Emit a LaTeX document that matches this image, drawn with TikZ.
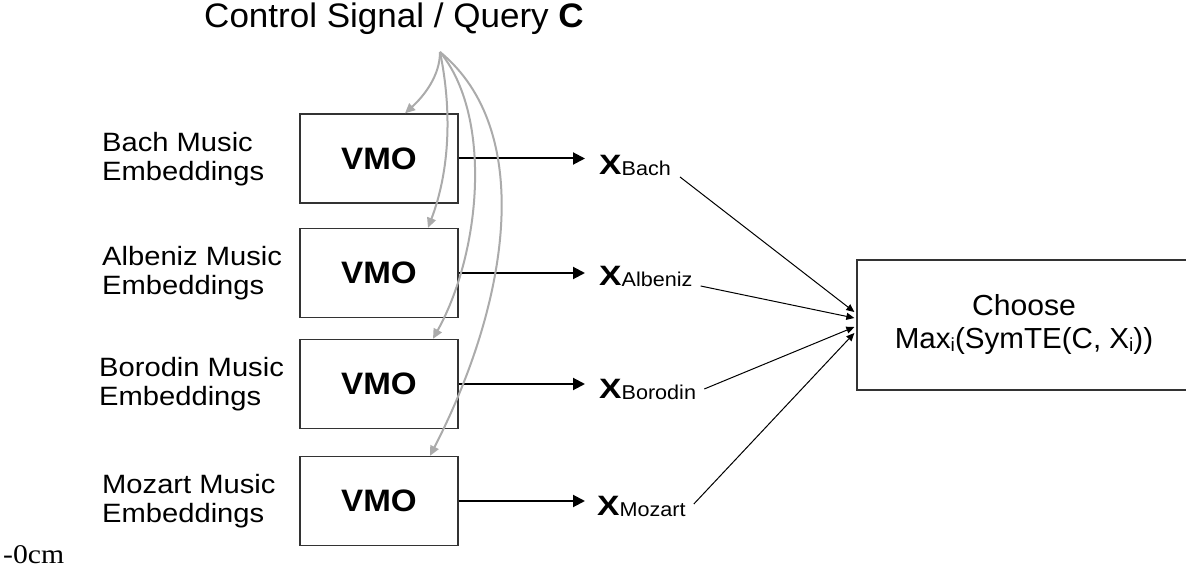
\documentclass[tikz,border=0pt]{standalone}
\usepackage{fontspec}
\usepackage{graphicx}
\setmainfont{Liberation Sans}
\newfontfamily\serifx{Liberation Serif}
\usetikzlibrary{arrows.meta}
\newcommand\twol[2]{\scalebox{1.1}[1]{\begin{tabular}{@{}l@{}}#1\\#2\end{tabular}}}
\newcommand\xsub[1]{\scalebox{1.2}[1]{\fontsize{28}{30}\selectfont\bfseries X}\raisebox{-1pt}{\scalebox{1.08}[1]{\fontsize{20}{22}\selectfont #1}}}
\newcommand\subi{\raisebox{-3pt}{\fontsize{19}{20}\selectfont i}}
\begin{document}
\begin{tikzpicture}[x=1pt,y=-1pt,
  vmo/.style={draw=black!80, line width=1.3pt, minimum width=158pt, minimum height=89pt, inner sep=0pt,
    font=\fontsize{31}{36}\selectfont\bfseries},
  lbl/.style={anchor=west, inner sep=0pt, font=\fontsize{26.5}{29}\selectfont},
  xl/.style={anchor=base west, inner sep=0pt},
  feed/.style={draw=black, line width=2pt, -{Triangle[length=12pt,width=12pt]}},
  link/.style={draw=black, line width=1pt, -{Triangle[length=8pt,width=7pt]}},
  ctrl/.style={draw=black!33, line width=2pt, -{Triangle[length=10pt,width=9pt]}}]
\useasboundingbox (0,0) rectangle (1186,569);
\clip (0,0) rectangle (1186,569);

% title
\node[anchor=base, inner sep=0pt, font=\fontsize{34}{40}\selectfont] (title) at (394,28)
  {\scalebox{1.03}[1]{Control Signal / Query \textbf{C}}};
\coordinate (q) at (440,52);

% VMO boxes
\node[vmo] (v1) at (379,158.5) {\scalebox{1.07}[1]{VMO}};
\node[vmo] (v2) at (379,273) {\scalebox{1.07}[1]{VMO}};
\node[vmo] (v3) at (379,384) {\scalebox{1.07}[1]{VMO}};
\node[vmo] (v4) at (379,501) {\scalebox{1.07}[1]{VMO}};

% left labels
\node[lbl] (l1) at (102,160) {\twol{Bach Music}{Embeddings}};
\node[lbl] (l2) at (102,274) {\twol{Albeniz Music}{Embeddings}};
\node[lbl] (l3) at (99,385) {\twol{Borodin Music}{Embeddings}};
\node[lbl] (l4) at (102,502) {\twol{Mozart Music}{Embeddings}};

% X labels
\node[xl] (x1) at (599,175) {\xsub{Bach}};
\node[xl] (x2) at (599,286) {\xsub{Albeniz}};
\node[xl] (x3) at (599,398) {\xsub{Borodin}};
\node[xl] (x4) at (597,515) {\xsub{Mozart}};

% choose box
\node[draw=black!80, line width=1.3pt, minimum width=334pt, minimum height=130pt, inner sep=0pt,
  align=center, font=\fontsize{29}{33}\selectfont] (ch) at (1024,325)
  {\scalebox{1.04}[1]{Choose}\\\scalebox{1.02}[1]{Max\subi(SymTE(C, X\subi))}};

% feed arrows
\draw[feed] (v1.east) -- ([xshift=-14pt]v1.east -| x1.west);
\draw[feed] (v2.east) -- ([xshift=-14pt]v2.east -| x2.west);
\draw[feed] (v3.east) -- ([xshift=-14pt]v3.east -| x3.west);
\draw[feed] (v4.east) -- ([xshift=-12pt]v4.east -| x4.west);

% links to choose
\draw[link] ([xshift=9pt,yshift=-2pt]x1.base east) -- ([xshift=-2pt,yshift=13pt]ch.west);
\draw[link] ([xshift=8pt]x2.base east) -- ([xshift=-2pt,yshift=7pt]ch.west);
\draw[link] ([xshift=8pt,yshift=9pt]x3.base east) -- ([xshift=-2pt,yshift=-2pt]ch.west);
\draw[link] ([xshift=8pt,yshift=11pt]x4.base east) -- ([xshift=-2pt,yshift=-8pt]ch.west);

% control arrows
\draw[ctrl] (q) .. controls (440,75) and (425,95) .. ([xshift=26pt]v1.north);
\draw[ctrl] (q) .. controls (452,110) and (450,170) .. ([xshift=49pt]v2.north);
\draw[ctrl] (q) .. controls (492,115) and (482,250) .. ([xshift=54pt]v3.north);
\draw[ctrl] (q) .. controls (535,130) and (510,300) .. ([xshift=51pt]v4.north);

% stray text
\node[anchor=base west, inner sep=0pt, font=\serifx\fontsize{27}{30}\selectfont] (cm) at (3,563)
  {\scalebox{1.1}[1]{-0cm}};
\end{tikzpicture}
\end{document}
